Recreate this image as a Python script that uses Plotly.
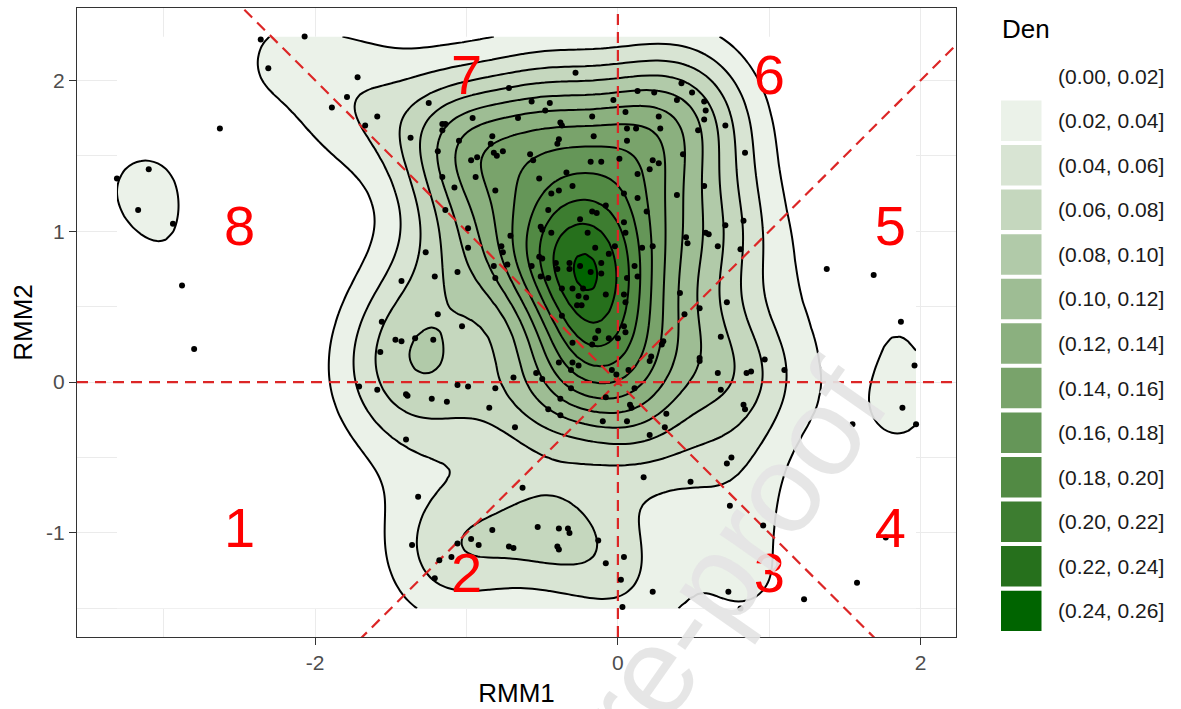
import numpy as np
import plotly.graph_objects as go

# ---------------- data ----------------
# daily RMM index pairs (RMM1, RMM2)
rmm1 = [
    -2.36, -2.07, -2.31, -1.72, -1.79, -1.89, -1.59, -1.67, -2.63, -3.31, -3.10, -3.17, -2.94, -2.88,
    -2.80, -1.56, -1.47, -1.57, -1.71, -1.59,
    -1.19, -1.03, -1.43, -1.34, -1.22, -1.06, -0.99, -0.81, -1.40, -1.39, -1.23, -1.13, -0.85, -0.69,
    -0.68, -1.40, -1.32, -0.63, -1.36, -1.18, -1.21, -1.10, -1.06, -0.97, -0.92, -0.83, -0.72, -0.69,
    -0.53, -0.39, -0.33, -0.32, -0.40, -0.39, -0.13, -0.08, 0.04, 0.02, 0.03, 0.23, 0.17, 0.48,
    -0.54, -0.50, -0.39, -0.31, -0.30, -0.26, -0.31, -0.38, -0.46, -0.38, -0.10, -0.08, -0.04, -0.01,
    0.06, 0.08, 0.09, 0.11, 0.07, 0.21, 0.22, 0.29, 0.30, 0.32, 0.31, 0.21, 0.54, 0.54, 0.44, 0.54,
    -0.13, -0.15, -0.06, 0.00, 0.04, 0.05, -0.37, -0.30, -0.27, -0.24, -0.17,
    -0.28, -0.72, -1.25, -0.57, -0.45, -0.48, -0.96, -0.66, -0.38, -0.37, -0.17, -0.03, 0.13, 0.24,
    0.42, 0.49, 0.39, 0.57, 0.58, 0.05, 0.27, 0.53, -1.16, -1.14, -1.16, -1.37, -1.05, -0.83, -0.84,
    -0.39, -0.40, -0.16, 0.06, 0.12, 0.28, 0.06, -1.19, -0.97, -0.93, -0.82, -0.76, -0.80, -0.58,
    -0.56, -0.18, -0.11, 0.01, 0.23, 0.27, 0.43, 0.13, 0.21, -1.16, -0.94, -0.52, -0.34, -1.08,
    -0.81, -0.44, -0.39, -0.30, 0.04, 0.13, 0.39, 0.57, -1.14, -0.46, -0.25, -0.17, -0.14, -0.08,
    0.19, 0.04, -0.99, -0.71, -0.50, -0.51, -0.44, -0.20, 0.05, -0.02, -0.15, -0.06, -0.11, 0.45,
    0.46, 0.23, 0.16, 0.58, -0.99, -0.77, -0.76, -0.52, -0.50, -0.41, -0.40, -0.32, -0.32, -0.25,
    -0.18, -0.11, 0.11, 0.06, 0.13, -1.27, -1.06, -1.21, -1.43, -0.82, -0.73, -0.57, -0.81, -0.51,
    -0.46, -0.37, -0.30, -0.26, -0.23, -0.21, -0.08, 0.04, 0.05, 0.41,
    0.57, 0.71, 0.84, 0.71, 0.83, 0.60, 0.66, 0.81, 0.72, 1.38, 1.69,
    0.68, 0.97, 0.66, 0.85, 0.88, 1.10, 0.68, 0.83, 0.84, 1.87, 1.96, 1.88, 1.97, 1.55, 0.75, 0.72,
    0.74, 0.96, 1.77, 1.58, 0.73, 0.81, 1.23,
]
rmm2 = [
    2.27, 2.29, 2.08, 2.02, 1.89, 1.82, 1.76, 1.70, 1.68, 1.35, 1.41, 1.14, 1.05, 0.64,
    0.22, 0.40, 0.28, 0.20, -0.03, -0.05,
    0.45, 0.37, 0.27, 0.29, 0.28, -0.02, -0.03, -0.04, -0.08, -0.09, -0.11, -0.13, -0.17, 0.03,
    -0.30, -0.38, -0.76, -0.70, -1.08, -1.18, -1.30, -1.16, -1.07, -1.04, -1.08, -0.98, -1.09, -1.10,
    -0.96, -0.97, -0.97, -1.00, -1.09, -1.11, -1.05, -1.20, -1.16, -1.31, -1.49, -1.39, -0.63, -0.66,
    0.06, 0.02, 0.13, 0.08, 0.13, 0.11, -0.04, -0.11, -0.18, -0.22, -0.26, -0.10, 0.08, 0.05,
    -0.26, -0.15, -0.17, -0.04, 0.08, 0.14, 0.17, 0.25, 0.27, -0.21, -0.30, -0.35, 0.16, 0.14, 0.45, 0.49,
    0.34, 0.29, 0.29, 0.29, 0.37, 0.33, 0.44, 0.26, 0.51, 0.51, 0.25,
    2.05, 1.95, 1.85, 1.86, 1.85, 1.80, 1.75, 1.75, 1.72, 1.70, 1.76, 1.87, 1.93, 1.92,
    1.98, 1.92, 1.87, 1.86, 1.80, 1.79, 1.76, 1.67, 1.71, 1.71, 1.67, 1.62, 1.60, 1.63, 1.58,
    1.61, 1.58, 1.63, 1.68, 1.68, 1.68, 1.60, 1.53, 1.47, 1.49, 1.52, 1.53, 1.50, 1.51,
    1.47, 1.46, 1.46, 1.48, 1.47, 1.45, 1.51, 1.38, 1.41, 1.36, 1.36, 1.35, 1.39, 1.29,
    1.27, 1.25, 1.27, 1.30, 1.25, 1.22, 1.24, 1.30, 1.14, 1.14, 1.08, 1.13, 1.12, 1.17,
    1.13, 1.06, 1.02, 0.97, 1.01, 1.03, 0.99, 0.99, 0.99, 0.90, 0.89, 0.85, 0.79, 0.96,
    0.92, 0.90, 0.89, 0.99, 0.89, 0.90, 0.86, 0.83, 0.82, 0.79, 0.75, 0.79, 0.75, 0.77,
    0.73, 0.72, 0.77, 0.69, 0.70, 0.86, 0.73, 0.70, 0.67, 0.77, 0.78, 0.77, 0.69, 0.70,
    0.69, 0.62, 0.62, 0.57, 0.62, 0.56, 0.58, 0.58, 0.53, 0.59,
    1.74, 1.70, 1.52, 1.04, 1.07, 0.98, 0.90, 0.88, 0.53, 0.75, 0.71,
    0.30, 0.15, 0.06, 0.06, 0.07, 0.08, -0.05, -0.15, -0.18, 0.40, 0.11, -0.17, -0.28, -0.28, -0.50, -0.54,
    -0.82, -0.95, -1.03, -1.33, -1.39, -1.50, -1.44,
]

# MJO phase numbers and where they sit
phase_text = ["1", "2", "3", "4", "5", "6", "7", "8"]
phase_x = [-2.5, -1.0, 1.0, 1.8, 1.8, 1.0, -1.0, -2.5]
phase_y = [-1.0, -1.3, -1.3, -1.0, 1.0, 2.0, 2.0, 1.0]

# phase boundaries: slopes of the diagonals through the origin
diag_slopes = [1.0, -1.0]

# density class breaks and their legend labels
den_breaks = [0.00, 0.02, 0.04, 0.06, 0.08, 0.10, 0.12, 0.14, 0.16, 0.18, 0.20, 0.22, 0.24, 0.26]
den_labels = [f"({a:.2f}, {b:.2f}]" for a, b in zip(den_breaks[:-1], den_breaks[1:])]

x_ticks = [-2, 0, 2]
y_ticks = [-1, 0, 1, 2]

# ---------------- colours: white -> darkgreen in CIE Lab ----------------
_M = np.array([[0.4124, 0.3576, 0.1805], [0.2126, 0.7152, 0.0722], [0.0193, 0.1192, 0.9505]])
_WHITE = np.array([0.95047, 1.0, 1.08883])


def _to_lin(c):
    c = np.asarray(c, float) / 255.0
    return np.where(c <= 0.04045, c / 12.92, ((c + 0.055) / 1.055) ** 2.4)


def _to_srgb(c):
    c = np.clip(c, 0, 1)
    v = np.where(c <= 0.0031308, 12.92 * c, 1.055 * c ** (1 / 2.4) - 0.055)
    return np.round(v * 255).astype(int)


def rgb_to_lab(rgb):
    xyz = _M @ _to_lin(rgb) / _WHITE
    d = 6 / 29
    f = np.where(xyz > d ** 3, np.cbrt(xyz), xyz / (3 * d * d) + 4 / 29)
    return np.array([116 * f[1] - 16, 500 * (f[0] - f[1]), 200 * (f[1] - f[2])])


def lab_to_hex(lab):
    d = 6 / 29
    fy = (lab[0] + 16) / 116
    f = np.array([fy + lab[1] / 500, fy, fy - lab[2] / 200])
    xyz = np.where(f > d, f ** 3, 3 * d * d * (f - 4 / 29)) * _WHITE
    r, g, b = _to_srgb(np.linalg.inv(_M) @ xyz)
    return f"#{r:02x}{g:02x}{b:02x}"


n_cls = len(den_labels)
lab_lo, lab_hi = rgb_to_lab([255, 255, 255]), rgb_to_lab([0, 100, 0])
den_colors = [lab_to_hex(lab_lo + (lab_hi - lab_lo) * k / (n_cls - 1)) for k in range(n_cls)]

# ---------------- 2-D kernel density (kde2d style) ----------------
x = np.array(rmm1)
y = np.array(rmm2)
n = len(x)


def bandwidth_nrd(v):
    q1, q3 = np.quantile(v, [0.25, 0.75])
    return 4 * 1.06 * min(np.std(v, ddof=1), (q3 - q1) / 1.34) * len(v) ** (-0.2)


hx, hy = bandwidth_nrd(x) / 4, bandwidth_nrd(y) / 4
gx = np.linspace(x.min(), x.max(), 100)
gy = np.linspace(y.min(), y.max(), 100)
kx = np.exp(-0.5 * ((gx[:, None] - x[None, :]) / hx) ** 2) / (np.sqrt(2 * np.pi) * hx)
ky = np.exp(-0.5 * ((gy[:, None] - y[None, :]) / hy) ** 2) / (np.sqrt(2 * np.pi) * hy)
dens = ky @ kx.T / n

# axis limits with 5% expansion
xw, yw = x.max() - x.min(), y.max() - y.min()
x_rng = [x.min() - 0.05 * xw, x.max() + 0.05 * xw]
y_rng = [y.min() - 0.05 * yw, y.max() + 0.05 * yw]

FONT = "Liberation Sans, Arial, Helvetica, sans-serif"
RED = "#dc2626"

fig = go.Figure()

step = den_breaks[1] - den_breaks[0]
fig.add_trace(go.Contour(
    x=gx, y=gy, z=dens,
    autocontour=False,
    contours=dict(start=den_breaks[1], end=den_breaks[-2] + step * 0.05, size=step,
                  coloring="fill", showlines=True),
    colorscale=[[k / (n_cls - 1), c] for k, c in enumerate(den_colors)],
    line=dict(color="black", width=2, smoothing=1),
    showscale=False, hoverinfo="skip",
))

# phase boundary guides
dash = dict(color=RED, width=2.2, dash="11px,7px")
fig.add_trace(go.Scatter(x=x_rng, y=[0, 0], mode="lines", line=dash, hoverinfo="skip"))
fig.add_trace(go.Scatter(x=[0, 0], y=y_rng, mode="lines", line=dash, hoverinfo="skip"))
for s in diag_slopes:
    xs = np.array([x_rng[0] - 1, x_rng[1] + 1])
    fig.add_trace(go.Scatter(x=xs, y=s * xs, mode="lines", line=dash, hoverinfo="skip"))

fig.add_trace(go.Scatter(x=rmm1, y=rmm2, mode="markers",
                         marker=dict(color="black", size=6, line=dict(width=0)),
                         hoverinfo="skip"))

fig.add_trace(go.Scatter(x=phase_x, y=phase_y, mode="text", text=phase_text,
                         textposition="middle center",
                         textfont=dict(family=FONT, size=56, color="#ff0000"),
                         hoverinfo="skip"))

# ---------------- layout ----------------
L, R, T, B = 77, 225, 7, 71
W, H = 1181, 709
pw, ph = W - L - R, H - T - B


def px_x(p):
    return (p - L) / pw


def px_y(p):
    return (H - B - p) / ph


shapes = []
annotations = []
annotations.append(dict(text="Den", x=px_x(1000), y=px_y(28), xref="paper", yref="paper",
                        xanchor="left", yanchor="middle", showarrow=False,
                        font=dict(family=FONT, size=26, color="black")))
for i, (lab, col) in enumerate(zip(den_labels, den_colors)):
    cy = 75.4 + 44.7 * i
    if i > 0:
        shapes.append(dict(type="rect", xref="paper", yref="paper",
                           x0=px_x(1001), x1=px_x(1041.5), y0=px_y(cy + 20.3), y1=px_y(cy - 20.3),
                           fillcolor=col, line=dict(width=0)))
    annotations.append(dict(text=lab, x=px_x(1056), y=px_y(cy), xref="paper", yref="paper",
                            xanchor="left", yanchor="middle", showarrow=False,
                            font=dict(family=FONT, size=21, color="#1a1a1a")))

# journal watermark
annotations.append(dict(text="Journal Pre-proof", x=px_x(580), y=px_y(775), xref="paper", yref="paper",
                        xanchor="center", yanchor="middle", showarrow=False, textangle=-55,
                        font=dict(family=FONT, size=125, color="rgba(228,228,228,0.92)")))

axis_common = dict(
    showline=True, mirror=True, linecolor="#333333", linewidth=1.2,
    ticks="outside", ticklen=7, tickwidth=1.2, tickcolor="#333333",
    tickfont=dict(family=FONT, size=21, color="#4d4d4d"),
    showgrid=True, gridcolor="#ebebeb", gridwidth=1.3, zeroline=False,
)

fig.update_layout(
    width=W, height=H,
    margin=dict(l=L, r=R, t=T, b=B),
    paper_bgcolor="white", plot_bgcolor="white",
    showlegend=False,
    xaxis=dict(range=x_rng, tickvals=x_ticks, ticktext=[str(v) for v in x_ticks],
               minor=dict(tickvals=[-3, -1, 1], showgrid=True, gridcolor="#ebebeb", gridwidth=0.8),
               title=dict(text="RMM1", font=dict(family=FONT, size=26, color="black"), standoff=10),
               **axis_common),
    yaxis=dict(range=y_rng, tickvals=y_ticks, ticktext=[str(v) for v in y_ticks],
               minor=dict(tickvals=[-1.5, -0.5, 0.5, 1.5], showgrid=True, gridcolor="#ebebeb", gridwidth=0.8),
               title=dict(text="RMM2", font=dict(family=FONT, size=26, color="black"), standoff=5),
               **axis_common),
    shapes=shapes,
    annotations=annotations,
)

fig.write_html("out.html")
